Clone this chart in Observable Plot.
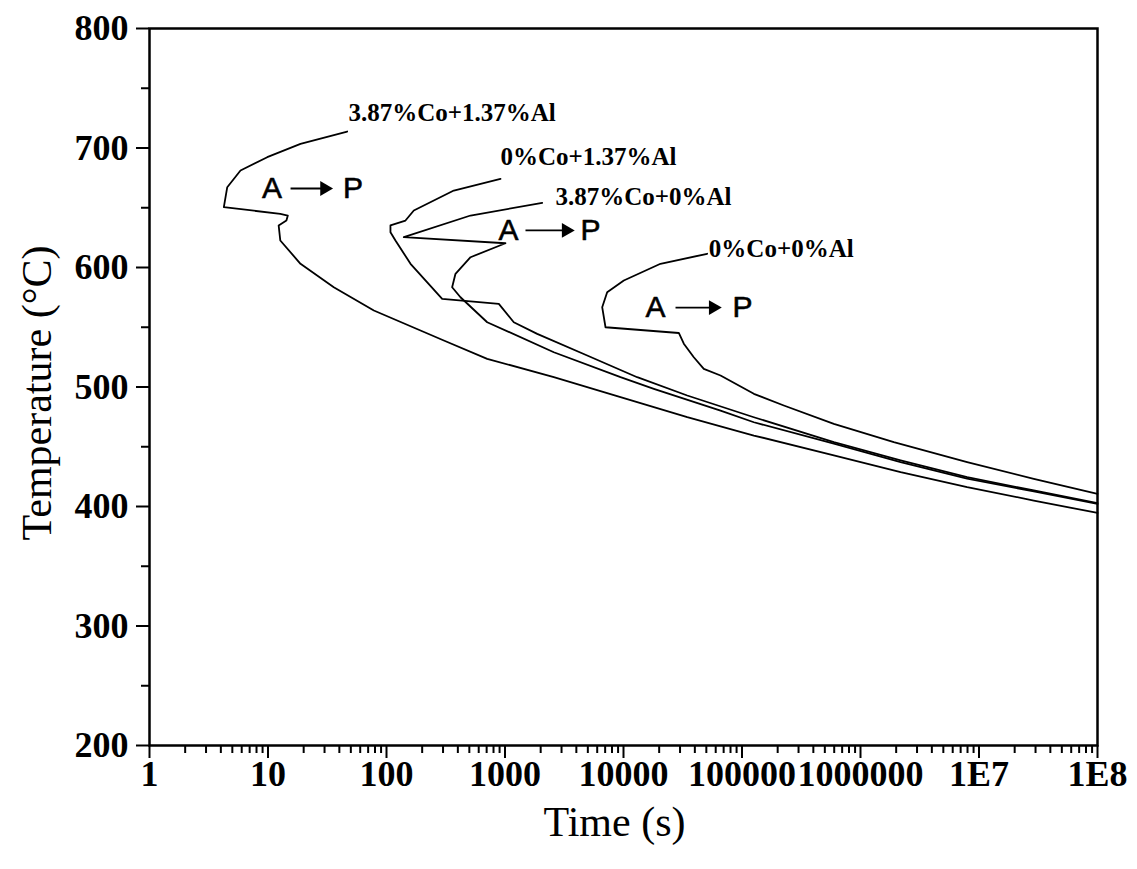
<!DOCTYPE html>
<html>
<head>
<meta charset="utf-8">
<script src="https://cdn.jsdelivr.net/npm/d3@7"></script>
<script src="https://cdn.jsdelivr.net/npm/@observablehq/plot@0.6"></script>
<style>
  html, body { margin: 0; padding: 0; background: #fff; }
  #chart { width: 1137px; height: 869px; }
</style>
</head>
<body>
<div id="chart"></div>
<script>
// ---- Data (time in s, temperature in °C) ----
const seriesNames = ["3.87%Co+1.37%Al", "0%Co+1.37%Al", "3.87%Co+0%Al", "0%Co+0%Al"];

const curveCo387Al137 = [
  [46.6, 713.8], [18.8, 703.5], [9.85, 692.3], [5.86, 681.2], [4.53, 667.2], [4.24, 650.5],
  [12.7, 644.9], [14.7, 643.5], [14.3, 639.3], [12.3, 635.2], [12.7, 622.6], [18.8, 603.1],
  [35.9, 583.5], [78.2, 564.0], [193.6, 547.3], [304.6, 538.9], [707.5, 523.6], [2582, 508.2],
  [9435, 491.5], [34500, 474.7], [125900, 459.4], [595600, 442.7], [2.18e6, 428.7],
  [7.94e6, 416.2], [2.9e7, 405.0], [1e8, 394.6]
];

const curveCo0Al137 = [
  [916, 674.2], [370, 664.4], [170, 647.7], [144.6, 639.3], [108, 635.2], [108, 629.5],
  [119, 622.6], [159.5, 603.1], [295, 573.8], [887, 569.6], [1186, 554.2], [1870, 544.5],
  [4940, 526.4], [13050, 508.2], [34500, 492.9], [125900, 474.7], [595600, 453.8],
  [2.18e6, 438.5], [7.94e6, 424.5], [2.9e7, 413.4], [1e8, 402.9]
];

const curveCo387Al0 = [
  [2061, 654.1], [512, 643.5], [140, 625.4], [1009, 620.3], [512, 608.6], [382, 594.7],
  [358, 583.5], [421, 575.1], [707.5, 554.2], [2582, 529.1], [9435, 508.2], [18030, 498.5],
  [65900, 480.3], [125900, 470.5], [595600, 452.7], [2.18e6, 437.2], [7.94e6, 423.4],
  [2.9e7, 412.6], [1e8, 402.1]
];

const curveCo0Al0 = [
  [50800, 611.5], [20510, 603.1], [10060, 589.1], [7280, 579.3], [6610, 566.8], [7050, 550.0],
  [29300, 545.2], [32280, 536.2], [39200, 524.9], [47600, 515.2], [65900, 509.6],
  [125900, 494.3], [225400, 484.5], [595600, 469.2], [1.91e6, 453.8], [7.94e6, 437.1],
  [2.9e7, 423.2], [1e8, 410.6]
];

// curve label anchors (start of text)
const labelTimes = [47.8, 916, 2668, 52500];
const labelTemps = [729.7, 692.3, 658.8, 615.7];

// "A -> P" annotations
const annoTemps = [666.1, 631.0, 566.5];
const annoATimes = [10.8, 1071, 18620];
const annoArrowStart = [15.5, 1489, 27480];
const annoArrowTip = [32.4, 3548, 61800];
const annoPTimes = [52.2, 5270, 100900];

// axes
const xTicks = [1, 10, 100, 1000, 10000, 100000, 1000000, 1e7, 1e8];
const xTickLabels = ["1", "10", "100", "1000", "10000", "100000", "1000000", "1E7", "1E8"];
const yTicks = [200, 300, 400, 500, 600, 700, 800];
const yMinorTicks = [250, 350, 450, 550, 650, 750];
const xMinorTicks = [];
for (let e = 0; e < 8; e++) for (let m = 2; m <= 9; m++) xMinorTicks.push(m * Math.pow(10, e));

// ---- Chart ----
const curves = [curveCo387Al137, curveCo0Al137, curveCo387Al0, curveCo0Al0];
const labels = seriesNames.map((n, i) => ({name: n, t: labelTimes[i], T: labelTemps[i]}));
const annos = annoTemps.map((T, i) => ({T, a: annoATimes[i], s: annoArrowStart[i], e: annoArrowTip[i], p: annoPTimes[i]}));
const serif = "'Liberation Serif', 'Times New Roman', serif";
const sans = "'Liberation Sans', Arial, sans-serif";

const chart = Plot.plot({
  width: 1137,
  height: 869,
  marginLeft: 149,
  marginRight: 40,
  marginTop: 28,
  marginBottom: 124,
  style: {background: "white", fontFamily: serif, color: "black"},
  x: {type: "log", domain: [1, 1e8]},
  y: {domain: [200, 800]},
  marks: [
    Plot.axisY({ticks: yMinorTicks, tickSize: 8, tickFormat: () => "", strokeWidth: 2, label: null}),
    Plot.axisY({ticks: yTicks, tickSize: 13, tickPadding: 8, tickFormat: d => String(d),
      fontSize: 36, fontWeight: "bold", fontFamily: serif, strokeWidth: 2, label: null}),
    Plot.axisX({ticks: xMinorTicks, tickSize: 8, tickFormat: () => "", strokeWidth: 2, label: null}),
    Plot.axisX({ticks: xTicks, tickSize: 13, tickPadding: 2,
      tickFormat: d => xTickLabels[xTicks.indexOf(d)],
      fontSize: 36, fontWeight: "bold", fontFamily: serif, strokeWidth: 2, label: null}),
    Plot.frame({stroke: "black", strokeWidth: 2.5}),
    ...curves.map(c => Plot.line(c, {x: d => d[0], y: d => d[1], stroke: "black", strokeWidth: 1.8, curve: "linear"})),
    Plot.text(labels, {x: "t", y: "T", text: "name", textAnchor: "start", fontSize: 25,
      fontWeight: "bold", fontFamily: serif, fill: "black"}),
    Plot.text(annos, {x: "a", y: "T", text: () => "A", fontSize: 30, fontFamily: sans, fill: "black", stroke: "black", strokeWidth: 0.6}),
    Plot.text(annos, {x: "p", y: "T", text: () => "P", fontSize: 30, fontFamily: sans, fill: "black", stroke: "black", strokeWidth: 0.6}),
    Plot.link(annos, {x1: "s", x2: "e", y1: "T", y2: "T", stroke: "black", strokeWidth: 1.8}),
    Plot.dot(annos, {x: "e", y: "T", symbol: "triangle", rotate: 90, r: 5.5, fill: "black", stroke: null, dx: -4}),
    Plot.text(["Time (s)"], {frameAnchor: "bottom", dy: 77, dx: -9, text: d => d, fontSize: 42,
      fontFamily: serif, fill: "black", textAnchor: "middle", lineAnchor: "middle"}),
    Plot.text(["Temperature (°C)"], {frameAnchor: "left", dx: -112, dy: 6, rotate: -90, text: d => d,
      fontSize: 42, fontFamily: serif, fill: "black", textAnchor: "middle", lineAnchor: "middle"})
  ]
});
document.getElementById("chart").appendChild(chart);
</script>
</body>
</html>
